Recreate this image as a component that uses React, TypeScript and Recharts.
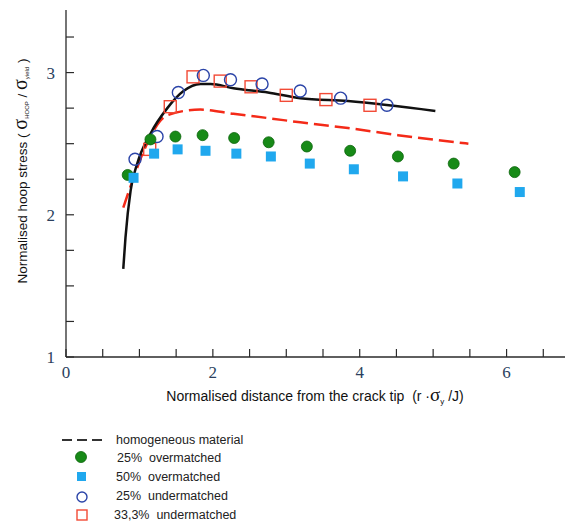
import React from 'react';
import { ComposedChart, Line, Scatter, XAxis, YAxis, Label } from 'recharts';

// curve: FE result for the mismatched weld (solid) and homogeneous material (dashed)
const solidX = [0.78, 0.81, 0.88, 0.97, 1.15, 1.38, 1.6, 1.83, 1.97, 2.28, 2.75, 3.19, 3.84, 5.03];
const solidY = [1.62, 1.84, 2.17, 2.36, 2.57, 2.75, 2.87, 2.92, 2.92, 2.89, 2.86, 2.82, 2.8, 2.73];
const homX = [0.78, 0.92, 1.06, 1.38, 1.83, 2.28, 2.75, 3.19, 3.84, 4.52, 5.48];
const homY = [2.05, 2.26, 2.45, 2.7, 2.74, 2.71, 2.68, 2.65, 2.61, 2.56, 2.5];

const over25X = [0.84, 1.15, 1.49, 1.86, 2.29, 2.76, 3.28, 3.87, 4.52, 5.28, 6.11];
const over25Y = [2.28, 2.53, 2.55, 2.56, 2.54, 2.51, 2.48, 2.45, 2.41, 2.36, 2.3];
const over50X = [0.92, 1.2, 1.52, 1.9, 2.32, 2.79, 3.32, 3.92, 4.59, 5.33, 6.18];
const over50Y = [2.26, 2.43, 2.46, 2.45, 2.43, 2.41, 2.36, 2.32, 2.27, 2.22, 2.16];
const under25X = [0.94, 1.24, 1.53, 1.87, 2.24, 2.67, 3.19, 3.74, 4.37];
const under25Y = [2.39, 2.55, 2.86, 2.98, 2.95, 2.92, 2.87, 2.82, 2.77];
const under33X = [1.14, 1.42, 1.73, 2.1, 2.52, 3.0, 3.54, 4.14];
const under33Y = [2.46, 2.76, 2.97, 2.94, 2.9, 2.84, 2.81, 2.77];

const xTicks = [0, 0.5, 1, 1.5, 2, 2.5, 3, 3.5, 4, 4.5, 5, 5.5, 6, 6.5, 7];
const xLabels = [0, 2, 4, 6];
const yTicks = [1, 1.25, 1.5, 1.75, 2, 2.25, 2.5, 2.75, 3, 3.25];
const yLabels = [1, 2, 3];

const AXIS = '#2a2a2a';
const TICK_TEXT = '#2b3f5e';
const SERIF = '"Liberation Serif", "DejaVu Serif", serif';
const SANS = '"Liberation Sans", Arial, sans-serif';

const pts = (xs: number[], ys: number[]) => xs.map((x, i) => ({ x, y: ys[i] }));

const BottomTick = ({ x, y, payload }: any) => (
  <g>
    <line x1={x} x2={x} y1={y} y2={y - 8} stroke={AXIS} strokeWidth={1.2} />
    {xLabels.includes(payload.value) && (
      <text x={x} y={y + 21} textAnchor="middle" fontFamily={SERIF} fontSize={17} fill={TICK_TEXT}>
        {payload.value}
      </text>
    )}
  </g>
);

const TopTick = ({ x, y }: any) => (
  <line x1={x} x2={x} y1={y} y2={y + 8} stroke={AXIS} strokeWidth={1.2} />
);

const LeftTick = ({ x, y, payload }: any) => (
  <g>
    <line x1={x} x2={x + 8} y1={y} y2={y} stroke={AXIS} strokeWidth={1.2} />
    {yLabels.includes(payload.value) && (
      <text x={x - 11} y={y + 6} textAnchor="end" fontFamily={SERIF} fontSize={17} fill={TICK_TEXT}>
        {payload.value}
      </text>
    )}
  </g>
);

const Dot = ({ cx, cy }: any) => <circle cx={cx} cy={cy} r={5.5} fill="#178a17" stroke="#0b640b" strokeWidth={0.8} />;
const FilledSquare = ({ cx, cy }: any) => <rect x={cx - 5} y={cy - 5} width={10} height={10} fill="#20a8ee" />;
const OpenCircle = ({ cx, cy }: any) => (
  <circle cx={cx} cy={cy} r={6} fill="none" stroke="#2b44a8" strokeWidth={1.4} />
);
const OpenSquare = ({ cx, cy }: any) => (
  <rect x={cx - 6} y={cy - 6} width={12} height={12} fill="none" stroke="#f24a36" strokeWidth={1.4} />
);

function ChartLegend() {
  const rowText = { fontFamily: SANS, fontSize: 12.5, fill: '#222', whiteSpace: 'pre' as const };
  return (
    <svg width={565} height={524} style={{ position: 'absolute', left: 0, top: 0, pointerEvents: 'none' }}>
      <line x1={62} x2={103} y1={440} y2={440} stroke="#333" strokeWidth={2} strokeDasharray="10 5" />
      <text x={116} y={444} style={rowText}>homogeneous material</text>
      <circle cx={81} cy={457} r={5.5} fill="#178a17" stroke="#0b640b" strokeWidth={0.8} />
      <text x={117} y={462} style={rowText}>25%  overmatched</text>
      <rect x={77} y={472} width={9} height={9} fill="#20a8ee" />
      <text x={116} y={481} style={rowText}>50%  overmatched</text>
      <circle cx={82} cy={497} r={5} fill="none" stroke="#2b44a8" strokeWidth={1.4} />
      <text x={116} y={500} style={rowText}>25%  undermatched</text>
      <rect x={77} y={510} width={10} height={10} fill="none" stroke="#f24a36" strokeWidth={1.4} />
      <text x={114} y={519} style={rowText}>33,3%  undermatched</text>
    </svg>
  );
}

export default function App() {
  return (
    <div style={{ position: 'absolute', left: 0, top: 0, width: 565, height: 524, overflow: 'hidden', background: '#fff' }}>
      <ComposedChart width={600} height={410} margin={{ top: 10, right: 20, bottom: 0, left: 0 }}>
        <XAxis
          xAxisId="top"
          orientation="top"
          dataKey="x"
          type="number"
          domain={[0, 7]}
          ticks={xTicks}
          interval={0}
          height={0}
          tickSize={0}
          tickMargin={0}
          tick={<TopTick />}
          tickLine={false}
          axisLine={{ stroke: AXIS, strokeWidth: 1.3 }}
        />
        <XAxis
          dataKey="x"
          type="number"
          domain={[0, 7]}
          ticks={xTicks}
          interval={0}
          height={53}
          tickSize={0}
          tickMargin={0}
          tick={<BottomTick />}
          tickLine={false}
          axisLine={{ stroke: AXIS, strokeWidth: 1.3 }}
        >
          <Label
            content={() => (
              <text x={315} y={401} textAnchor="middle" fontFamily={SANS} fontSize={14} fill="#111" style={{ whiteSpace: 'pre' }}>
                {'Normalised distance from the crack tip  (r \u00b7'}
                <tspan fontFamily={SERIF} fontSize={19}>σ</tspan>
                <tspan fontSize={8} dy={3}>y</tspan>
                <tspan dy={-3}>{' /J)'}</tspan>
              </text>
            )}
          />
        </XAxis>
        <YAxis
          dataKey="y"
          type="number"
          domain={[1, 3.44]}
          ticks={yTicks}
          interval={0}
          width={66}
          tickSize={0}
          tickMargin={0}
          tick={<LeftTick />}
          tickLine={false}
          axisLine={{ stroke: AXIS, strokeWidth: 1.3 }}
        >
          <Label
            content={() => (
              <text
                x={0}
                y={0}
                transform="translate(27 171) rotate(-90)"
                textAnchor="middle"
                fontFamily={SANS}
                fontSize={13.5}
                fill="#111"
                style={{ whiteSpace: 'pre' }}
              >
                {'Normalised hoop stress ( '}
                <tspan fontFamily={SERIF} fontSize={20}>σ</tspan>
                <tspan fontSize={6} dy={2}>HOOP</tspan>
                <tspan dy={-2}>{' / '}</tspan>
                <tspan fontFamily={SERIF} fontSize={20}>σ</tspan>
                <tspan fontSize={6} dy={2}>yield</tspan>
                <tspan dy={-2}>{' )'}</tspan>
              </text>
            )}
          />
        </YAxis>
        <Line
          data={pts(homX, homY)}
          dataKey="y"
          type="monotone"
          stroke="#f42a18"
          strokeWidth={2.5}
          strokeDasharray="15 6"
          dot={false}
          isAnimationActive={false}
        />
        <Line
          data={pts(solidX, solidY)}
          dataKey="y"
          type="monotone"
          stroke="#111"
          strokeWidth={2.5}
          dot={false}
          isAnimationActive={false}
        />
        <Scatter data={pts(under33X, under33Y)} dataKey="y" shape={OpenSquare} isAnimationActive={false} />
        <Scatter data={pts(under25X, under25Y)} dataKey="y" shape={OpenCircle} isAnimationActive={false} />
        <Scatter data={pts(over25X, over25Y)} dataKey="y" shape={Dot} isAnimationActive={false} />
        <Scatter data={pts(over50X, over50Y)} dataKey="y" shape={FilledSquare} isAnimationActive={false} />
      </ComposedChart>
      <ChartLegend />
    </div>
  );
}
